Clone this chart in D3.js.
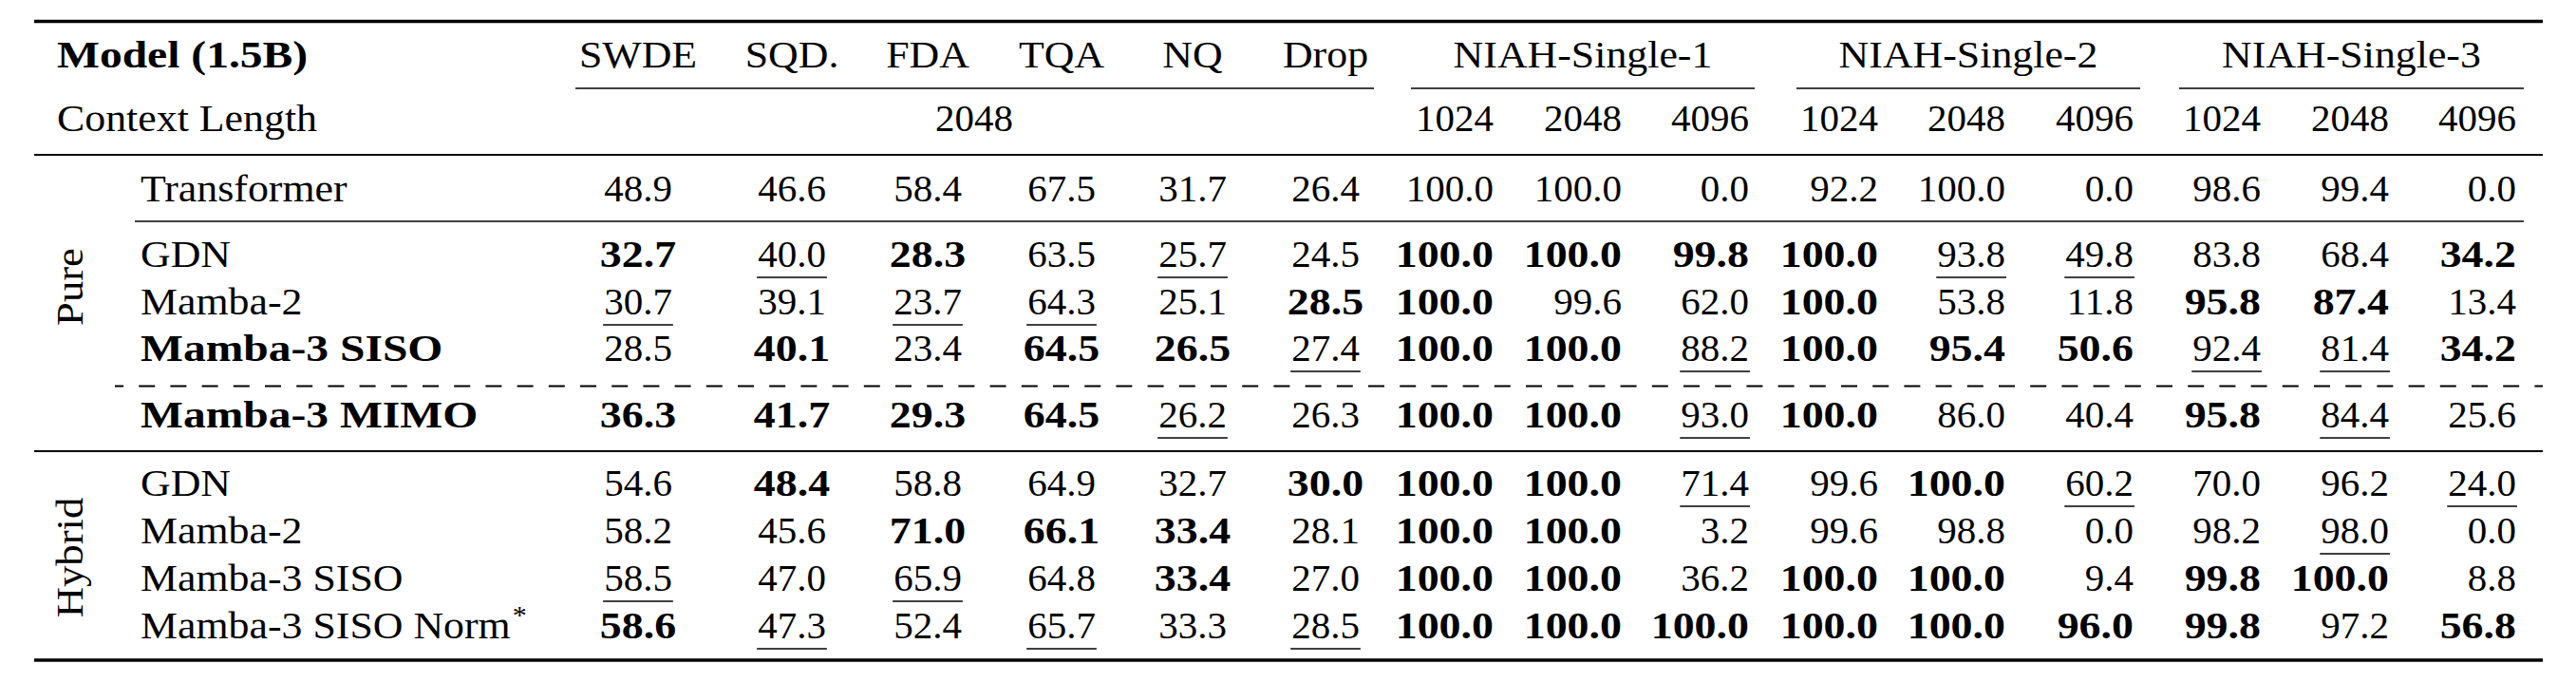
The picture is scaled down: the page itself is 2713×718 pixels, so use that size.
<!DOCTYPE html>
<html>
<head>
<meta charset="utf-8">
<script src="https://cdn.jsdelivr.net/npm/d3@7"></script>
<style>
  html, body { margin: 0; background: #fff; }
</style>
</head>
<body>
<div id="chart"></div>
<script>
// ---- data ----
const taskNames = ["SWDE", "SQD.", "FDA", "TQA", "NQ", "Drop"];
const taskContext = "2048";
const niahGroups = ["NIAH-Single-1", "NIAH-Single-2", "NIAH-Single-3"];
const niahLengths = ["1024", "2048", "4096"];
const sections = ["Pure", "Hybrid"];

const models = ["Transformer", "GDN", "Mamba-2", "Mamba-3 SISO", "Mamba-3 MIMO",
                "GDN", "Mamba-2", "Mamba-3 SISO", "Mamba-3 SISO Norm"];
const modelSection = [null, "Pure", "Pure", "Pure", "Pure", "Hybrid", "Hybrid", "Hybrid", "Hybrid"];
const ours = [false, false, false, true, true, false, false, false, false];
const starred = [false, false, false, false, false, false, false, false, true];

const scores = [
  [48.9, 46.6, 58.4, 67.5, 31.7, 26.4, 100.0, 100.0, 0.0, 92.2, 100.0, 0.0, 98.6, 99.4, 0.0],
  [32.7, 40.0, 28.3, 63.5, 25.7, 24.5, 100.0, 100.0, 99.8, 100.0, 93.8, 49.8, 83.8, 68.4, 34.2],
  [30.7, 39.1, 23.7, 64.3, 25.1, 28.5, 100.0, 99.6, 62.0, 100.0, 53.8, 11.8, 95.8, 87.4, 13.4],
  [28.5, 40.1, 23.4, 64.5, 26.5, 27.4, 100.0, 100.0, 88.2, 100.0, 95.4, 50.6, 92.4, 81.4, 34.2],
  [36.3, 41.7, 29.3, 64.5, 26.2, 26.3, 100.0, 100.0, 93.0, 100.0, 86.0, 40.4, 95.8, 84.4, 25.6],
  [54.6, 48.4, 58.8, 64.9, 32.7, 30.0, 100.0, 100.0, 71.4, 99.6, 100.0, 60.2, 70.0, 96.2, 24.0],
  [58.2, 45.6, 71.0, 66.1, 33.4, 28.1, 100.0, 100.0, 3.2, 99.6, 98.8, 0.0, 98.2, 98.0, 0.0],
  [58.5, 47.0, 65.9, 64.8, 33.4, 27.0, 100.0, 100.0, 36.2, 100.0, 100.0, 9.4, 99.8, 100.0, 8.8],
  [58.6, 47.3, 52.4, 65.7, 33.3, 28.5, 100.0, 100.0, 100.0, 100.0, 100.0, 96.0, 99.8, 97.2, 56.8]
];
// 1 = best in group, 2 = second best, 0 = neither
const ranks = [
  [0, 0, 0, 0, 0, 0, 0, 0, 0, 0, 0, 0, 0, 0, 0],
  [1, 2, 1, 0, 2, 0, 1, 1, 1, 1, 2, 2, 0, 0, 1],
  [2, 0, 2, 2, 0, 1, 1, 0, 0, 1, 0, 0, 1, 1, 0],
  [0, 1, 0, 1, 1, 2, 1, 1, 2, 1, 1, 1, 2, 2, 1],
  [1, 1, 1, 1, 2, 0, 1, 1, 2, 1, 0, 0, 1, 2, 0],
  [0, 1, 0, 0, 0, 1, 1, 1, 2, 0, 1, 2, 0, 0, 2],
  [0, 0, 1, 1, 1, 0, 1, 1, 0, 0, 0, 0, 0, 2, 0],
  [2, 0, 2, 0, 1, 0, 1, 1, 0, 1, 1, 0, 1, 1, 0],
  [1, 2, 0, 2, 0, 2, 1, 1, 1, 1, 1, 1, 1, 0, 1]
];

// ---- layout ----
const width = 2713, height = 718;
const ruleLeft = 36, ruleRight = 2678;
const fontFamily = "Liberation Serif";
const fontSize = 41;
// Times is narrower than Computer Modern, stretch words (and bold) a little
const wordStretch = 1.07, boldStretch = 1.16, boldNumStretch = 1.12;
const fmt = d3.format(".1f");

const nCols = taskNames.length + niahGroups.length * niahLengths.length;
const colX = d3.scaleOrdinal()
  .domain(d3.range(nCols))
  .range([672, 834, 977, 1118, 1256, 1396,
          1573, 1708, 1842, 1978, 2112, 2247, 2381, 2516, 2650]);
const colAnchor = i => i < taskNames.length ? "middle" : "end";

const rowY = d3.scaleOrdinal()
  .domain(d3.range(models.length))
  .range([212, 281, 331, 380, 450, 522, 572, 622, 672]);

const svg = d3.select("#chart").append("svg")
  .attr("width", width)
  .attr("height", height)
  .attr("viewBox", `0 0 ${width} ${height}`)
  .attr("font-family", fontFamily)
  .attr("font-size", fontSize)
  .attr("fill", "#000");

function rule(x1, x2, y, w, dash, offset) {
  svg.append("line")
    .attr("x1", x1).attr("x2", x2).attr("y1", y).attr("y2", y)
    .attr("stroke", "#000").attr("stroke-width", w)
    .attr("stroke-dasharray", dash || null)
    .attr("stroke-dashoffset", offset || null);
}

function label(x, y, txt, anchor, sx, bold) {
  return svg.append("text")
    .attr("transform", `translate(${x},${y}) scale(${sx || wordStretch},1)`)
    .attr("font-family", fontFamily)
    .attr("font-weight", bold ? "bold" : "normal")
    .attr("text-anchor", anchor || "start")
    .text(txt);
}

// booktabs-like rules
rule(ruleLeft, ruleRight, 22.5, 3.3);
rule(606, 1447, 93, 1.3);
const niahSpans = [[1486, 1848], [1892, 2254], [2295, 2658]];
niahSpans.forEach(s => rule(s[0], s[1], 93, 1.3));
rule(ruleLeft, ruleRight, 163, 2);
rule(142, 2658, 233, 1.3);
rule(121, ruleRight, 406.5, 1.8, "17,16.2", 8);
rule(ruleLeft, ruleRight, 475, 2);
rule(ruleLeft, ruleRight, 695, 3.3);

// header row 1
label(60, 71, "Model (1.5B)", "start", boldStretch, true);
taskNames.forEach((t, i) => label(colX(i), 71, t, "middle"));
niahGroups.forEach((g, i) => label((niahSpans[i][0] + niahSpans[i][1]) / 2, 71, g, "middle"));

// header row 2
label(60, 138, "Context Length");
label(1026, 138, taskContext, "middle", 1);
niahGroups.forEach((g, gi) => niahLengths.forEach((l, li) =>
  label(colX(taskNames.length + gi * niahLengths.length + li), 138, l, "end", 1)));

// section labels (rotated)
const sectionCenter = { Pure: 302, Hybrid: 587 };
sections.forEach(s => {
  svg.append("text")
    .attr("transform", `translate(87,${sectionCenter[s]}) rotate(-90) scale(1.09,1)`)
    .attr("font-family", fontFamily)
    .attr("text-anchor", "middle").text(s);
});

// model names
const names = svg.selectAll(null).data(models).join("text")
  .attr("transform", (d, i) => `translate(148,${rowY(i)}) scale(${ours[i] ? boldStretch : wordStretch},1)`)
  .attr("font-family", fontFamily)
  .attr("font-weight", (d, i) => ours[i] ? "bold" : "normal")
  .text(d => d);
names.filter((d, i) => starred[i]).append("tspan")
  .attr("dx", 2).attr("dy", -15).attr("font-size", 28).text("*");

// cells
const cells = scores.flatMap((row, r) => row.map((v, c) => ({ v, r, c, rank: ranks[r][c] })));
const cellScale = d => d.rank === 1 ? boldNumStretch : 1;
const cellText = svg.selectAll(null).data(cells).join("text")
  .attr("transform", d => `translate(${colX(d.c)},${rowY(d.r)}) scale(${cellScale(d)},1)`)
  .attr("font-family", fontFamily)
  .attr("text-anchor", d => colAnchor(d.c))
  .attr("font-weight", d => d.rank === 1 ? "bold" : "normal")
  .text(d => fmt(d.v));

// underline second-best values
cellText.filter(d => d.rank === 2).each(function(d) {
  const b = this.getBBox();
  const x0 = colX(d.c) + b.x * cellScale(d);
  rule(x0 - 1, x0 + b.width * cellScale(d) + 1, rowY(d.r) + 11, 1.6);
});
</script>
</body>
</html>
